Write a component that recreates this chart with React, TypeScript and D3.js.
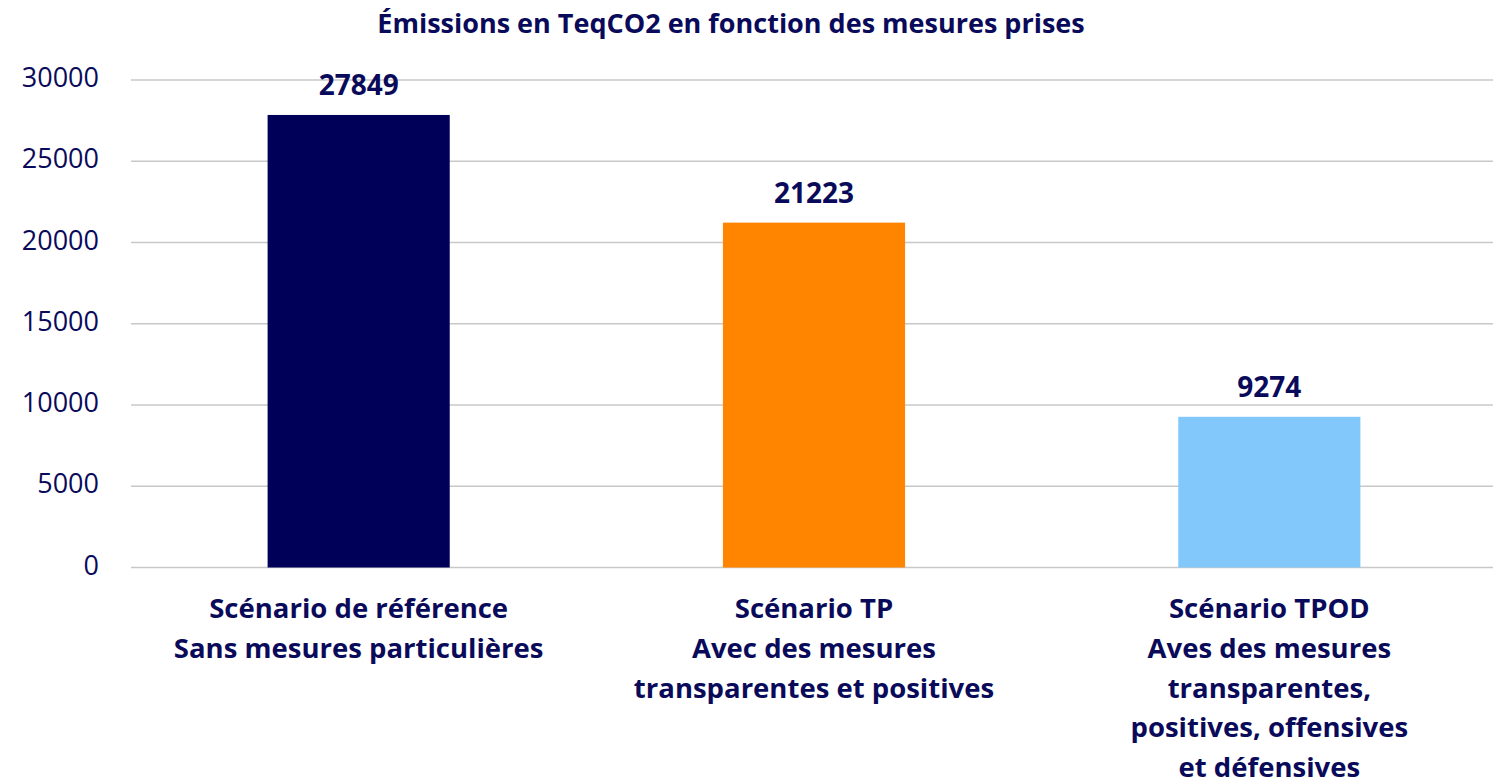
import React from "react";
import * as d3 from "d3";

const categories = ["ref", "tp", "tpod"];
const categoryLabels: string[][] = [
  ["Scénario de référence", "Sans mesures particulières"],
  ["Scénario TP", "Avec des mesures", "transparentes et positives"],
  ["Scénario TPOD", "Aves des mesures", "transparentes,", "positives, offensives", "et défensives"],
];
const values = [27849, 21223, 9274];
const colors = ["#000059", "#FF8400", "#82C8FA"];
const yTicks = [0, 5000, 10000, 15000, 20000, 25000, 30000];
const title = "Émissions en TeqCO2 en fonction des mesures prises";

const W = 1503;
const H = 783;
const TEXT = "#0A0A5A";
const FONT = "'Open Sans', 'Noto Sans', sans-serif";

export default function App() {
  const x = d3.scaleBand<string>().domain(categories).range([131, 1497]).padding(0);
  const y = d3.scaleLinear().domain([0, 30000]).range([567.5, 80]);
  const bw = x.bandwidth() * 0.4;

  return (
    <svg width={W} height={H} style={{ position: "absolute", left: 0, top: 0, background: "#fff" }}>
      <text x={731} y={33} textAnchor="middle" fontFamily={FONT} fontWeight={700} fontSize={27} fill={TEXT}>
        {title}
      </text>
      {yTicks.map((t) => (
        <g key={t}>
          <line x1={131} x2={1493} y1={y(t)} y2={y(t)} stroke="#C8C8C8" strokeWidth={1.3} />
          <text x={99} y={y(t) + 7} textAnchor="end" fontFamily={FONT} fontSize={27} fill={TEXT}>
            {t}
          </text>
        </g>
      ))}
      {categories.map((c, i) => {
        const cx = (x(c) as number) + x.bandwidth() / 2;
        return (
          <g key={c}>
            <rect x={cx - bw / 2} y={y(values[i])} width={bw} height={y(0) - y(values[i])} fill={colors[i]} />
            <text x={cx} y={y(values[i]) - 20} textAnchor="middle" fontFamily={FONT} fontWeight={700} fontSize={28} fill={TEXT}>
              {values[i]}
            </text>
            {categoryLabels[i].map((l, j) => (
              <text key={j} x={cx} y={618 + j * 39.8} textAnchor="middle" fontFamily={FONT} fontWeight={700} fontSize={27.5} fill={TEXT}>
                {l}
              </text>
            ))}
          </g>
        );
      })}
    </svg>
  );
}
